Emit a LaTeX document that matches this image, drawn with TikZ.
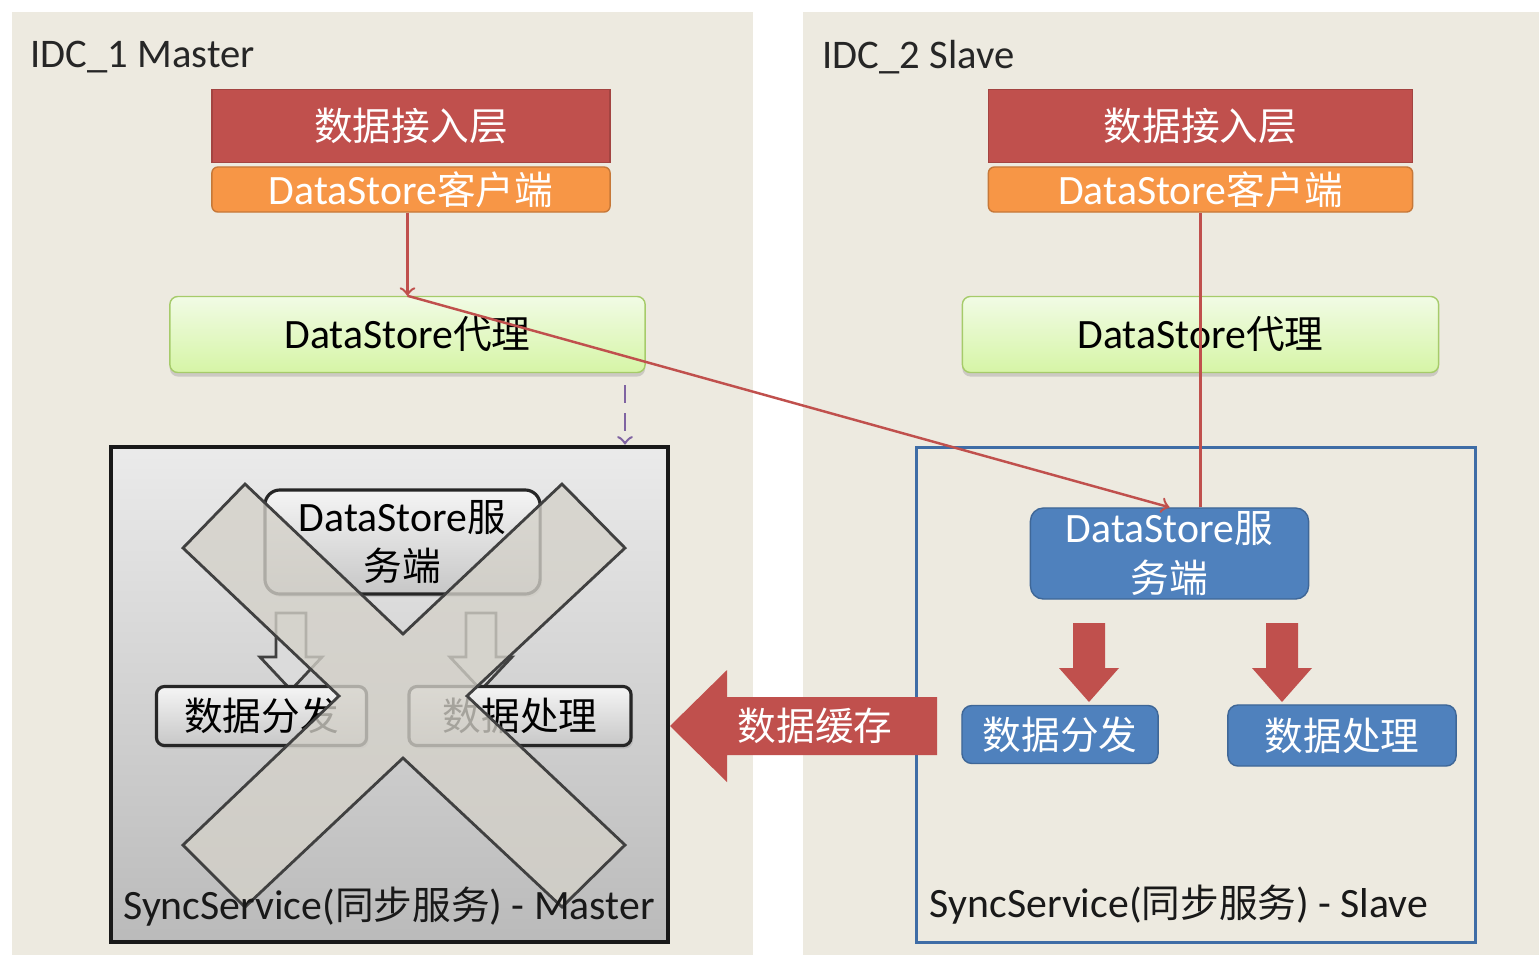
\documentclass[tikz,border=0pt]{standalone}
\usepackage{fontspec}
\setmainfont{Carlito}[Scale=1.08]
\newfontfamily\cjk{Noto Sans CJK SC}
\usetikzlibrary{shadows}

\definecolor{panel}{HTML}{EDEAE0}
\definecolor{accred}{HTML}{C0504D}
\definecolor{cliorange}{HTML}{F79646}
\definecolor{dsblue}{HTML}{4F81BD}
\definecolor{slaveblue}{HTML}{3F6DA6}
\definecolor{prxgreen}{HTML}{A6CB6A}
\definecolor{linkpurple}{HTML}{8064A2}

\begin{document}
\begin{tikzpicture}[x=0.01cm,y=-0.01cm,
  font=\fontsize{11}{14}\selectfont,
  accbox/.style={draw=accred!85!black,fill=accred,text=white,minimum width=3.98cm,minimum height=0.73cm,inner sep=0pt},
  clibox/.style={draw=cliorange!80!black,fill=cliorange,text=white,rounded corners=0.06cm,minimum width=3.98cm,minimum height=0.45cm,inner sep=0pt},
  prxbox/.style={draw=prxgreen,top color={rgb,255:red,241;green,251;blue,229},bottom color={rgb,255:red,214;green,245;blue,166},rounded corners=0.08cm,minimum width=4.75cm,minimum height=0.76cm,inner sep=0pt,drop shadow={opacity=0.3,shadow xshift=0cm,shadow yshift=-0.04cm}},
  graybox/.style={draw=black!85,line width=0.9pt,top color=black!4,bottom color=black!22,rounded corners=0.08cm,inner sep=0pt,align=center,drop shadow={opacity=0.25,shadow xshift=0.02cm,shadow yshift=-0.03cm}},
  bluebox/.style={draw=dsblue!80!black,fill=dsblue,text=white,rounded corners=0.1cm,inner sep=0pt,align=center},
  hollow/.style={draw=black!75,line width=0.8pt,fill=black!14},
  xmark/.style={draw=black!75,line width=0.8pt,fill={rgb,255:red,212;green,209;blue,201},fill opacity=0.78},
  redlink/.style={draw=accred,line width=0.7pt},
  purplelink/.style={draw=linkpurple,line width=0.7pt,dash pattern=on 5pt off 3pt}]

  % page and the two data centres
  \useasboundingbox (0,0) rectangle (1539,957);
  \fill[white] (0,0) rectangle (1539,957);
  \fill[panel] (12,12) rectangle (753,955);
  \fill[panel] (803,12) rectangle (1539,955);
  \node[anchor=west,inner sep=0pt,text=black!85,font=\fontsize{10.7}{14}\selectfont] (idcL) at (30,57) {IDC\_1 Master};
  \node[anchor=west,inner sep=0pt,text=black!85,font=\fontsize{10.7}{14}\selectfont] (idcR) at (822,57) {IDC\_2 Slave};

  % IDC_1
  \node[accbox] (accL) at (411,126) {\cjk 数据接入层};
  \node[clibox] (cliL) at (411,189.5) {DataStore{\cjk 客户端}};
  \node[prxbox] (prxL) at (407.5,334.5) {DataStore{\cjk 代理}};
  \node[draw=black!90,line width=1.3pt,top color=black!8,bottom color=black!27,minimum width=5.57cm,minimum height=4.95cm] (mstL) at (389.5,694.5) {};
  \node[graybox,rounded corners=0.15cm,minimum width=2.75cm,minimum height=1.04cm] (srvL) at (402.5,542) {DataStore{\cjk 服}\\{\cjk 务端}};
  \foreach \ax in {291,481}
    \draw[hollow] (\ax-15,613) -- (\ax+15,613) -- (\ax+15,657) -- (\ax+31,657) -- (\ax,690) -- (\ax-31,657) -- (\ax-15,657) -- cycle;
  \node[graybox,minimum width=2.1cm,minimum height=0.59cm] (disL) at (261.5,716) {\cjk 数据分发};
  \node[graybox,minimum width=2.22cm,minimum height=0.59cm] (proL) at (520,716) {\cjk 数据处理};
  % master switched off
  \draw[xmark] (245,484) -- (403,634) -- (562,484) -- (625,548) -- (467,696) -- (625,845) -- (562,907) -- (403,758) -- (245,907) -- (183,845) -- (339,696) -- (183,548) -- cycle;
  \node[text=black!90] (mstLbl) at (389,907) {SyncService({\cjk 同步服务}) - Master};

  % IDC_2
  \node[accbox,minimum width=4.24cm] (accR) at (1200.5,126) {\cjk 数据接入层};
  \node[clibox,minimum width=4.24cm] (cliR) at (1200.5,189.5) {DataStore{\cjk 客户端}};
  \node[prxbox,minimum width=4.76cm] (prxR) at (1200.5,334.5) {DataStore{\cjk 代理}};
  \node[draw=slaveblue,line width=0.9pt,minimum width=5.58cm,minimum height=4.95cm] (slvR) at (1196,695) {};
  \node[bluebox,rounded corners=0.13cm,minimum width=2.78cm,minimum height=0.91cm] (srvR) at (1169.5,553.5) {DataStore{\cjk 服}\\{\cjk 务端}};
  \foreach \ax in {1089,1282}
    \fill[accred] (\ax-16,623) -- (\ax+16,623) -- (\ax+16,668) -- (\ax+30,668) -- (\ax,702) -- (\ax-30,668) -- (\ax-16,668) -- cycle;
  \node[bluebox,minimum width=1.96cm,minimum height=0.58cm] (disR) at (1060,734.5) {\cjk 数据分发};
  \node[bluebox,minimum width=2.28cm,minimum height=0.61cm] (proR) at (1342,735.5) {\cjk 数据处理};
  \node[text=black!90] (slvLbl) at (1179,905) {SyncService({\cjk 同步服务}) - Slave};

  % cache replicated back to the master
  \fill[accred] (937,697) -- (727,697) -- (727,670) -- (670,726) -- (727,782) -- (727,755) -- (937,755) -- cycle;
  \node[text=white] (cache) at (815,726) {\cjk 数据缓存};

  % links
  \draw[redlink,->] (prxL.north |- cliL.south) -- (prxL.north);
  \draw[redlink,->] (prxL.north) -- (srvR.north);
  \draw[redlink] (cliR.south) -- (cliR.south |- srvR.north);
  \coordinate (dashTop) at (625,385);
  \draw[purplelink,->] (dashTop) -- (dashTop |- mstL.north);
\end{tikzpicture}
\end{document}
